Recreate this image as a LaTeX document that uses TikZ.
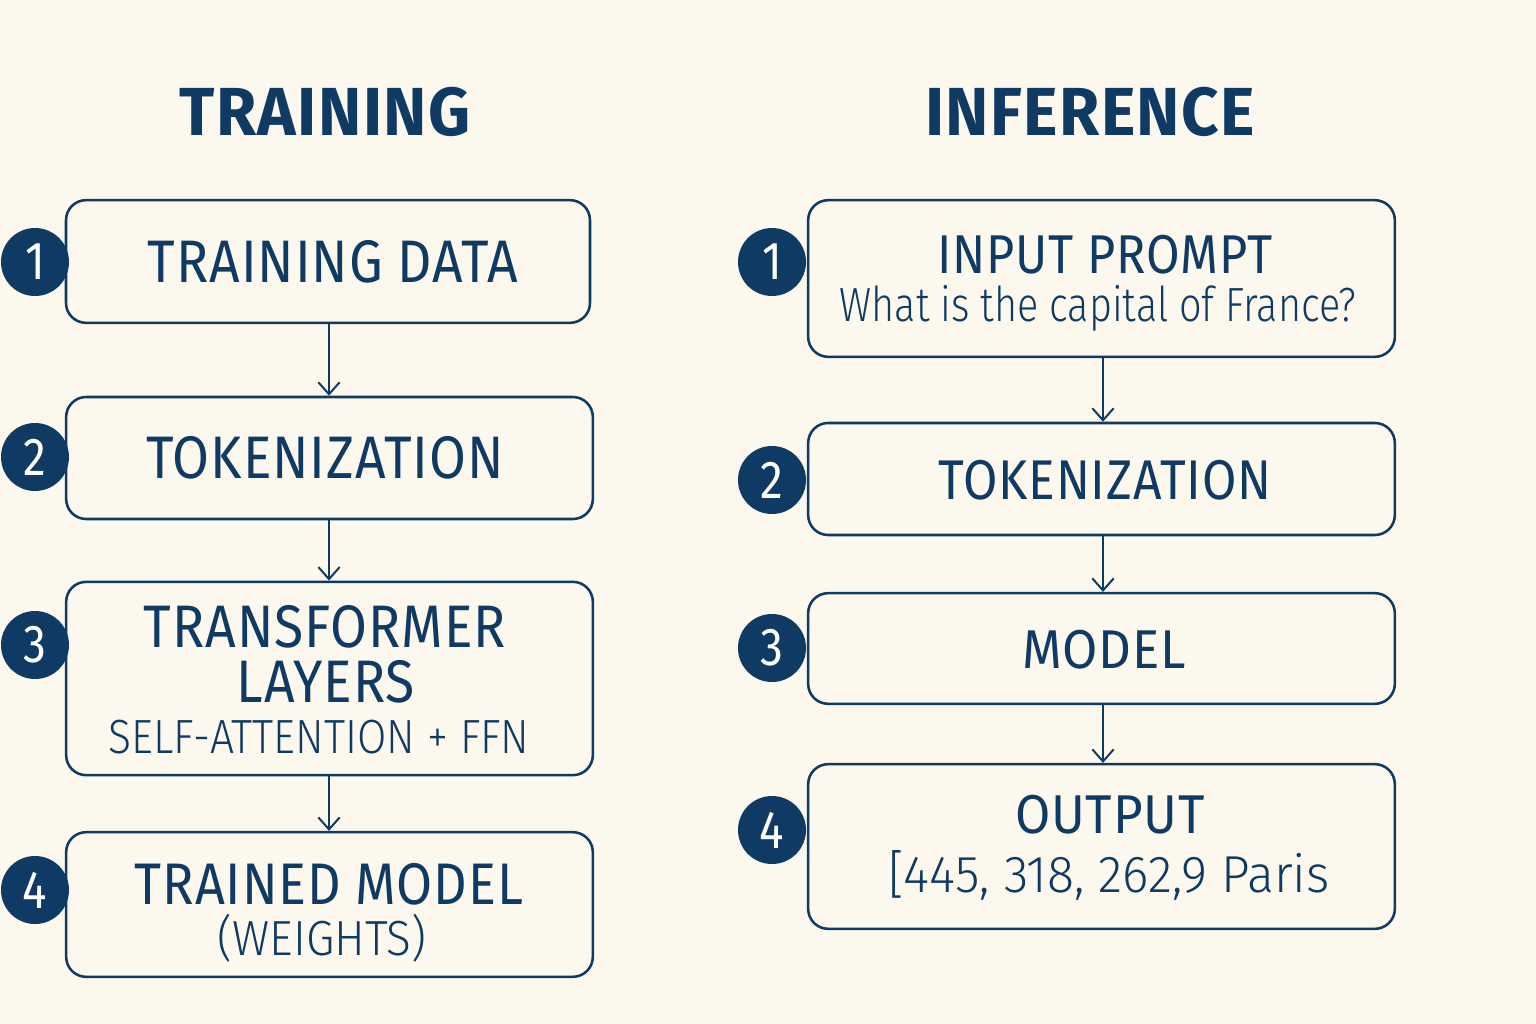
\documentclass[tikz,border=0pt]{standalone}
\usepackage{fontspec}
\setmainfont{Fira Sans Light}[FakeStretch=0.86]
\newfontfamily\medfont{Fira Sans}[FakeStretch=0.89,LetterSpace=1.5]
\newfontfamily\numfont{Fira Sans}[FakeStretch=0.86]
\newfontfamily\boldfont{Fira Sans Bold}[FakeStretch=0.96,LetterSpace=2]
\usetikzlibrary{arrows.meta}
\definecolor{bg}{HTML}{FDF8EE}
\definecolor{navy}{HTML}{0E3A63}
\tikzset{
  box/.style={draw=navy, line width=1.9pt, rounded corners=15pt, fill=bg, inner sep=0pt},
  num/.style={circle, fill=navy, minimum size=51pt, inner sep=0pt, text=white, font=\numfont\fontsize{40}{40}\selectfont},
  title/.style={text=navy, inner sep=0pt, font=\boldfont\fontsize{51}{51}\selectfont},
  main/.style={text=navy, inner sep=0pt, font=\medfont\fontsize{45}{45}\selectfont},
  sub/.style={text=navy, inner sep=0pt, font=\fontsize{36}{36}\selectfont},
  conn/.style={draw=navy, line width=1.5pt, -{Straight Barb[length=9pt,width=16pt,line width=1.5pt]}},
}
\begin{document}
\begin{tikzpicture}[x=0.75pt,y=-0.75pt]
\fill[bg] (0,0) rectangle (1536,1024);
\useasboundingbox (0,0) rectangle (1536,1024);

% titles
\node[title] (t1) at (325,112) {TRAINING};
\node[title] (t2) at (1090,112) {INFERENCE};

% training boxes
\node[box, minimum width=393pt, minimum height=92pt] (L1) at (328,261.5) {};
\node[box, minimum width=395pt, minimum height=91.5pt] (L2) at (329.5,458) {};
\node[box, minimum width=395pt, minimum height=145pt] (L3) at (329.5,678.5) {};
\node[box, minimum width=395pt, minimum height=108.5pt] (L4) at (329.5,904.5) {};

\node[main] (L1a) at (333,262) {TRAINING DATA};
\node[main] (L2a) at (325,458) {TOKENIZATION};
\node[main] (L3a) at (325,627) {TRANSFORMER};
\node[main] (L3b) at (326,682) {LAYERS};
\node[sub]  (L3c) at (319,737) {\scalebox{1.03}[1]{SELF-ATTENTION + FFN}};
\node[main, font=\medfont\fontsize{44}{44}\selectfont] (L4a) at (329,884) {TRAINED MODEL};
\node[sub, font=\fontsize{37}{37}\selectfont] (L4b) at (322,938) {\scalebox{1.08}[1]{(WEIGHTS)}};

\node[num] (n1) at (35,262) {1};
\node[num] (n2) at (35,457) {2};
\node[num] (n3) at (35,645) {3};
\node[num] (n4) at (35,890) {4};

% inference boxes
\node[box, minimum width=440pt, minimum height=117.5pt] (R1) at (1101.5,278.5) {};
\node[box, minimum width=440pt, minimum height=84pt] (R2) at (1101.5,479) {};
\node[box, minimum width=440pt, minimum height=83pt] (R3) at (1101.5,648.5) {};
\node[box, minimum width=440pt, minimum height=123.5pt] (R4) at (1101.5,846.5) {};

\node[main, font=\medfont\fontsize{41}{41}\selectfont] (R1a) at (1105,255) {INPUT PROMPT};
\node[sub] (R1b) at (1098,308) {\scalebox{0.96}[1]{What is the capital of France?}};
\node[main, font=\medfont\fontsize{42}{42}\selectfont] (R2a) at (1105,480) {TOKENIZATION};
\node[main, font=\medfont\fontsize{41}{41}\selectfont] (R3a) at (1104,650) {\scalebox{1.05}[1]{MODEL}};
\node[main, font=\medfont\fontsize{41}{41}\selectfont] (R4a) at (1110,815) {\scalebox{1.05}[1]{OUTPUT}};
\node[sub, font=\fontsize{39}{39}\selectfont] (R4b) at (1109,875) {\scalebox{1.12}[1]{[445, 318, 262,9 Paris}};

\node[num] (m1) at (772,262) {1};
\node[num] (m2) at (772,480) {2};
\node[num] (m3) at (772,648) {3};
\node[num] (m4) at (772,830) {4};

% connectors
\draw[conn] (L1.south -| 329,0) -- (L2.north -| 329,0);
\draw[conn] (L2.south -| 329,0) -- (L3.north -| 329,0);
\draw[conn] (L3.south -| 329,0) -- (L4.north -| 329,0);
\draw[conn] (R1.south -| 1103,0) -- (R2.north -| 1103,0);
\draw[conn] (R2.south -| 1103,0) -- (R3.north -| 1103,0);
\draw[conn] (R3.south -| 1103,0) -- (R4.north -| 1103,0);
\end{tikzpicture}
\end{document}
